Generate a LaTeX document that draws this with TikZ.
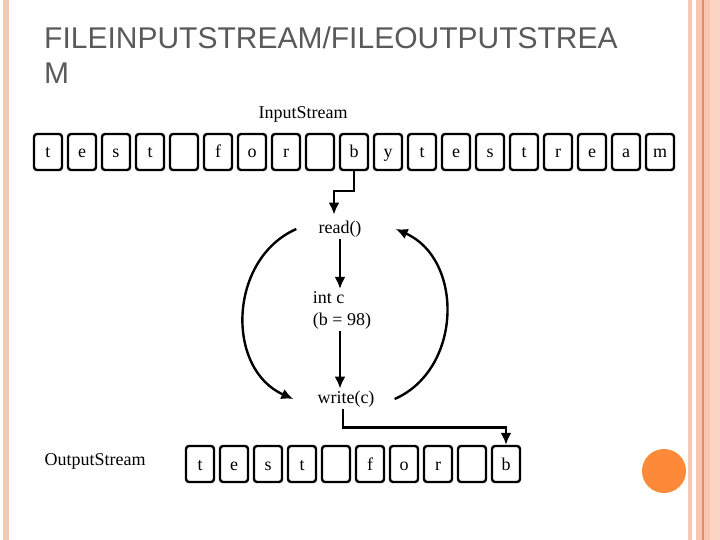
\documentclass[tikz,border=0pt]{standalone}
\usepackage{fontspec}
\setmainfont{Liberation Serif}
\newfontfamily\titlefont{Liberation Sans}
\definecolor{TitleGray}{RGB}{90,90,90}
\definecolor{BandSalmon}{RGB}{248,198,178}
\definecolor{BandLight}{RGB}{252,212,196}
\definecolor{BandLine}{RGB}{228,140,100}
\definecolor{DotOrange}{RGB}{253,138,56}
\usetikzlibrary{positioning,arrows.meta,calc}
\tikzset{>={Latex[length=12pt,width=11pt]}}
\tikzset{charbox/.style={draw,line width=2.4pt,rounded corners=3pt,minimum width=28pt,minimum height=36pt,inner sep=0pt,text height=12pt,text depth=0pt,font=\fontsize{18}{20}\selectfont}}
\tikzset{streamtext/.style={inner sep=2pt,font=\fontsize{18}{22}\selectfont}}
\tikzset{flow/.style={->,line width=2.4pt}}

\begin{document}
\begin{tikzpicture}[x=1pt,y=-1pt]
                \useasboundingbox (0,0) rectangle (720,540);
                % slide borders
                \fill[BandSalmon] (3,0) rectangle (9,540);
                \fill[BandSalmon] (688,0) rectangle (692,540);
                \fill[BandSalmon] (696,0) rectangle (702,540);
                \fill[BandLine] (702,0) rectangle (703.5,540);
                \fill[BandSalmon] (703.5,0) rectangle (710,540);
                \fill[BandLight] (710,0) rectangle (720,540);
                \fill[DotOrange] (664,471) circle[radius=22pt];
                \node[anchor=north west,inner sep=0pt,align=left,text=TitleGray,font=\titlefont\fontsize{30}{35}\selectfont] (title) at (44,27) {FILEINPUTSTREAM/FILEOUTPUTSTREA\\M};
                % the two streams
                \foreach \ch [count=\i] in {t,e,s,t,{},f,o,r,{},b,y,t,e,s,t,r,e,a,m}
                    \node[charbox] (in\i) at ({14+34*\i},152) {\ch};
                \foreach \ch [count=\i] in {t,e,s,t,{},f,o,r,{},b}
                    \node[charbox] (out\i) at ({166+34*\i},464) {\ch};
                \node[streamtext] (instream) at (303,114) {InputStream};
                \node[streamtext] (outstream) at (95,461) {OutputStream};
                \node[streamtext] (read) at (340,229) {read()};
                \node[streamtext,align=left] (intc) at (342,310) {int c\\(b = 98)};
                \node[streamtext] (write) at (346,399) {write(c)};
                % copying one byte
                \draw[flow] (in10.south) -- ++(0,20) -| ([xshift=-6pt,yshift=4pt]read.north);
                \draw[flow] (read.south) -- (read.south |- intc.north);
                \draw[flow] (intc.south -| read) -- (write.north -| read);
                \draw[flow] ([xshift=-3pt]write.south) -- ++(0,18) -| (out10.north);
                \draw[flow] ([xshift=-20pt]read.west) .. controls +(-68,30) and +(-68,-30) .. ([xshift=-22pt]write.west);
                \draw[flow] ([xshift=18pt]write.east) .. controls +(68,-30) and +(68,30) .. ([xshift=32pt]read.east);
            \end{tikzpicture}
\end{document}
